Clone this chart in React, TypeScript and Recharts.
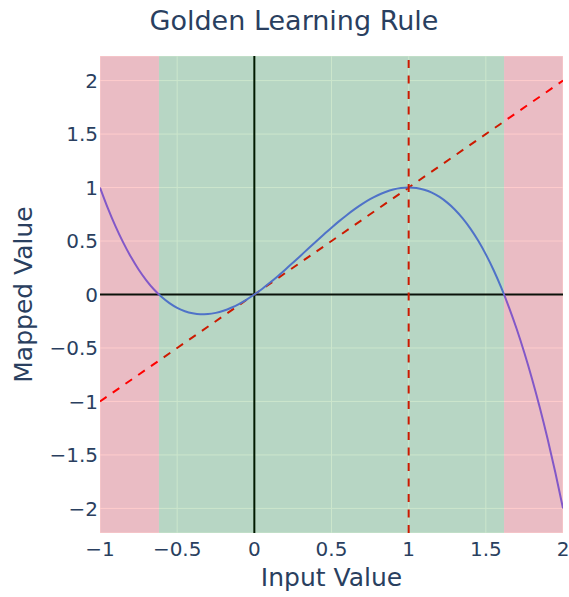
import {
  CartesianGrid,
  Line,
  LineChart,
  ReferenceArea,
  ReferenceLine,
  XAxis,
  YAxis,
} from 'recharts';

const inputValues = [
  -1, -0.95, -0.9, -0.85, -0.8, -0.75, -0.7, -0.65, -0.6, -0.55, -0.5, -0.45, -0.4,
  -0.35, -0.3, -0.25, -0.2, -0.15, -0.1, -0.05, 0, 0.05, 0.1, 0.15, 0.2, 0.25, 0.3,
  0.35, 0.4, 0.45, 0.5, 0.55, 0.6, 0.65, 0.7, 0.75, 0.8, 0.85, 0.9, 0.95, 1, 1.05,
  1.1, 1.15, 1.2, 1.25, 1.3, 1.35, 1.4, 1.45, 1.5, 1.55, 1.6, 1.65, 1.7, 1.75, 1.8,
  1.85, 1.9, 1.95, 2,
];
const mappedValues = [
  1, 0.81, 0.639, 0.487, 0.352, 0.234, 0.133, 0.047, -0.024, -0.081, -0.125, -0.156,
  -0.176, -0.185, -0.183, -0.172, -0.152, -0.124, -0.089, -0.047, 0, 0.052, 0.109,
  0.169, 0.232, 0.297, 0.363, 0.43, 0.496, 0.561, 0.625, 0.686, 0.744, 0.798, 0.847,
  0.891, 0.928, 0.958, 0.981, 0.995, 1, 0.995, 0.979, 0.952, 0.912, 0.859, 0.793,
  0.712, 0.616, 0.504, 0.375, 0.229, 0.064, -0.12, -0.323, -0.547, -0.792, -1.059,
  -1.349, -1.662, -2,
];

// identity reference line endpoints
const identityX = [-1, 2];
const identityY = [-1, 2];

// zones: outside the golden roots is red, between them green
const lowerRoot = -0.618;
const upperRoot = 1.618;
const fixedPoint = 1;

const xTicks = [-1, -0.5, 0, 0.5, 1, 1.5, 2];
const yTicks = [-2, -1.5, -1, -0.5, 0, 0.5, 1, 1.5, 2];

const X_MIN = -1;
const X_MAX = 2;
const Y_MIN = -2.23;
const Y_MAX = 2.23;

const FONT = 'Verdana, "DejaVu Sans", sans-serif';
const TEXT = '#2a3f5f';

const curveData = inputValues.map((x, i) => ({ x, y: mappedValues[i] }));
const identityData = identityX.map((x, i) => ({ x, y: identityY[i] }));

const lowStop = (lowerRoot - X_MIN) / (X_MAX - X_MIN);
const highStop = (upperRoot - X_MIN) / (X_MAX - X_MIN);

const fmt = (v: number) => String(v).replace('-', '\u2212');

function YTitle(props: any) {
  const vb = props.viewBox || { x: 0, y: 0, height: 0 };
  const cx = 32;
  const cy = vb.y + vb.height / 2;
  return (
    <text
      x={cx}
      y={cy}
      transform={`rotate(-90, ${cx}, ${cy})`}
      textAnchor="middle"
      fill={TEXT}
      fontSize={25}
      fontFamily={FONT}
    >
      Mapped Value
    </text>
  );
}

export default function App() {
  return (
    <div
      style={{
        position: 'fixed',
        left: 0,
        top: 0,
        width: 569,
        height: 597,
        overflow: 'hidden',
        background: '#fff',
      }}
    >
      <div
        style={{
          position: 'absolute',
          left: 0,
          top: 5,
          width: 588,
          textAlign: 'center',
          fontFamily: FONT,
          fontSize: 27,
          color: TEXT,
          lineHeight: '32px',
        }}
      >
        Golden Learning Rule
      </div>
      <LineChart
        width={569}
        height={597}
        margin={{ top: 56, right: 6, bottom: 0, left: 0 }}
        style={{ fontFamily: FONT }}
      >
        <defs>
          <linearGradient id="curveStroke" x1="0" y1="0" x2="1" y2="0">
            <stop offset={0} stopColor="#8258c8" />
            <stop offset={lowStop} stopColor="#8258c8" />
            <stop offset={lowStop} stopColor="#4f72c8" />
            <stop offset={highStop} stopColor="#4f72c8" />
            <stop offset={highStop} stopColor="#8258c8" />
            <stop offset={1} stopColor="#8258c8" />
          </linearGradient>
          <linearGradient id="identityStroke" x1="0" y1="0" x2="1" y2="0">
            <stop offset={0} stopColor="#ff0000" />
            <stop offset={lowStop} stopColor="#ff0000" />
            <stop offset={lowStop} stopColor="#cc1a00" />
            <stop offset={highStop} stopColor="#cc1a00" />
            <stop offset={highStop} stopColor="#ff0000" />
            <stop offset={1} stopColor="#ff0000" />
          </linearGradient>
        </defs>
        <CartesianGrid fill="#E5ECF6" stroke="#ffffff" strokeWidth={1} />
        <XAxis
          type="number"
          dataKey="x"
          domain={[X_MIN, X_MAX]}
          ticks={xTicks}
          allowDataOverflow
          tickFormatter={fmt}
          tickLine={false}
          axisLine={false}
          tickSize={0}
          tickMargin={9}
          height={64}
          tick={{ fill: TEXT, fontSize: 20 }}
          label={{ value: 'Input Value', position: 'insideBottom', offset: 11, fill: TEXT, fontSize: 25 }}
        />
        <YAxis
          type="number"
          dataKey="y"
          domain={[Y_MIN, Y_MAX]}
          ticks={yTicks}
          allowDataOverflow
          tickFormatter={fmt}
          tickLine={false}
          axisLine={false}
          tickSize={0}
          tickMargin={2}
          width={100}
          tick={{ fill: TEXT, fontSize: 20 }}
          label={<YTitle />}
        />
        <ReferenceArea x1={X_MIN} x2={lowerRoot} fill="#ff0000" fillOpacity={0.2} stroke="none" />
        <ReferenceArea x1={lowerRoot} x2={upperRoot} fill="#008000" fillOpacity={0.2} stroke="none" />
        <ReferenceArea x1={upperRoot} x2={X_MAX} fill="#ff0000" fillOpacity={0.2} stroke="none" />
        <ReferenceLine y={0} stroke="#0a120a" strokeWidth={2} />
        <ReferenceLine x={0} stroke="#001a00" strokeWidth={2} />
        <Line
          data={identityData}
          dataKey="y"
          type="linear"
          stroke="url(#identityStroke)"
          strokeWidth={2}
          strokeDasharray="8 7.5"
          dot={false}
          activeDot={false}
          isAnimationActive={false}
        />
        <Line
          data={curveData}
          dataKey="y"
          type="monotone"
          stroke="url(#curveStroke)"
          strokeWidth={2}
          dot={false}
          activeDot={false}
          isAnimationActive={false}
        />
        <ReferenceLine x={fixedPoint} stroke="#cc1a00" strokeWidth={2} strokeDasharray="8 7.5" />
      </LineChart>
    </div>
  );
}
